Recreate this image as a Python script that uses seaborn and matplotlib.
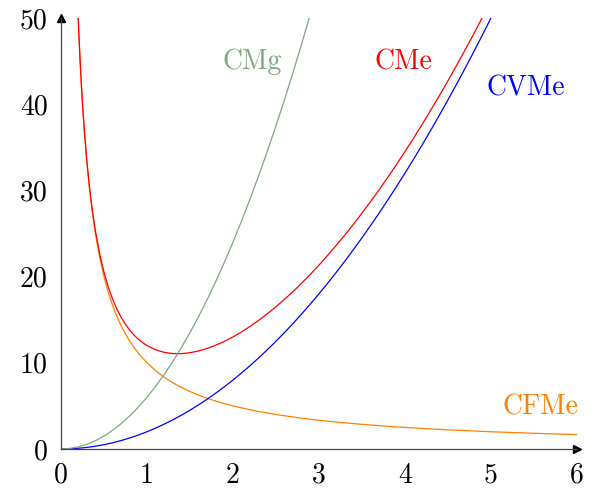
import matplotlib
matplotlib.use("Agg")
import matplotlib.pyplot as plt
import seaborn as sns
import pandas as pd

# ---- data ----
x_start = [0.2, 0.21, 0.22, 0.23, 0.24, 0.25, 0.27, 0.3, 0.33, 0.36, 0.4, 0.45, 0.5,
           0.55, 0.6, 0.65, 0.7, 0.75, 0.8, 0.85, 0.9, 0.95]

x_fixed = x_start + [1.0, 1.1, 1.2, 1.3, 1.4, 1.5, 1.6, 1.7, 1.8, 1.9, 2.0, 2.25, 2.5,
                     2.75, 3.0, 3.25, 3.5, 3.75, 4.0, 4.5, 5.0, 5.5, 6.0]
cfme = [50.0, 47.62, 45.45, 43.48, 41.67, 40.0, 37.04, 33.33, 30.30, 27.78, 25.0, 22.22,
        20.0, 18.18, 16.67, 15.38, 14.29, 13.33, 12.5, 11.76, 11.11, 10.53,
        10.0, 9.09, 8.33, 7.69, 7.14, 6.67, 6.25, 5.88, 5.56, 5.26, 5.0, 4.44, 4.0,
        3.64, 3.33, 3.08, 2.86, 2.67, 2.5, 2.22, 2.0, 1.82, 1.67]

x_cme = x_start + [1.0, 1.1, 1.2, 1.3, 1.4, 1.5, 1.6, 1.7, 1.8, 1.9, 2.0, 2.1, 2.2, 2.3,
                   2.4, 2.5, 2.6, 2.7, 2.8, 2.9, 3.0, 3.1, 3.2, 3.3, 3.4, 3.5, 3.6, 3.7,
                   3.8, 3.9, 4.0, 4.1, 4.2, 4.3, 4.4, 4.5, 4.6, 4.7, 4.8, 4.9, 5.0]
cme = [50.08, 47.71, 45.55, 43.59, 41.78, 40.13, 37.19, 33.51, 30.52, 28.04, 25.32,
       22.63, 20.5, 18.79, 17.39, 16.23, 15.27, 14.46, 13.78, 13.21, 12.73, 12.33,
       12.0, 11.51, 11.21, 11.07, 11.06, 11.17, 11.37, 11.66, 12.04, 12.48, 13.0, 13.58,
       14.23, 14.93, 15.69, 16.5, 17.37, 18.28, 19.25, 20.27, 21.33, 22.45, 23.61, 24.81,
       26.06, 27.36, 28.70, 30.08, 31.51, 32.98, 34.5, 36.06, 37.66, 39.31, 40.99, 42.72,
       44.49, 46.31, 48.16, 50.06, 52.0]

x_cvme = [0, 0.1, 0.2, 0.3, 0.4, 0.5, 0.6, 0.7, 0.8, 0.9, 1.0, 1.1, 1.2, 1.3, 1.4, 1.5,
          1.6, 1.7, 1.8, 1.9, 2.0, 2.1, 2.2, 2.3, 2.4, 2.5, 2.6, 2.7, 2.8, 2.9, 3.0, 3.1,
          3.2, 3.3, 3.4, 3.5, 3.6, 3.7, 3.8, 3.9, 4.0, 4.1, 4.2, 4.3, 4.4, 4.5, 4.6, 4.7,
          4.8, 4.9, 5.0, 5.1]
cvme = [0, 0.02, 0.08, 0.18, 0.32, 0.5, 0.72, 0.98, 1.28, 1.62, 2.0, 2.42, 2.88, 3.38,
        3.92, 4.5, 5.12, 5.78, 6.48, 7.22, 8.0, 8.82, 9.68, 10.58, 11.52, 12.5, 13.52,
        14.58, 15.68, 16.82, 18.0, 19.22, 20.48, 21.78, 23.12, 24.5, 25.92, 27.38, 28.88,
        30.42, 32.0, 33.62, 35.28, 36.98, 38.72, 40.5, 42.32, 44.18, 46.08, 48.02, 50.0,
        52.02]

x_cmg = [0, 0.1, 0.2, 0.3, 0.4, 0.5, 0.6, 0.7, 0.8, 0.9, 1.0, 1.1, 1.2, 1.3, 1.4, 1.5,
         1.6, 1.7, 1.8, 1.9, 2.0, 2.1, 2.2, 2.3, 2.4, 2.5, 2.6, 2.7, 2.8, 2.9, 3.0]
cmg = [0, 0.06, 0.24, 0.54, 0.96, 1.5, 2.16, 2.94, 3.84, 4.86, 6.0, 7.26, 8.64, 10.14,
       11.76, 13.5, 15.36, 17.34, 19.44, 21.66, 24.0, 26.46, 29.04, 31.74, 34.56, 37.5,
       40.56, 43.74, 47.04, 50.46, 54.0]

labels = ["CMg", "CMe", "CVMe", "CFMe"]
label_pos = [(2.22, 44.9), (3.98, 44.9), (5.41, 41.8), (5.58, 4.8)]
colors = {"CMg": "#7fa67f", "CMe": "#ff0000", "CVMe": "#0000ff", "CFMe": "#ff8000"}

xticks = [0, 1, 2, 3, 4, 5, 6]
yticks = [0, 10, 20, 30, 40, 50]

# ---- plotting ----
sns.set_style("white")
plt.rcParams["font.family"] = ["cmr10", "DejaVu Serif"]
plt.rcParams["axes.formatter.use_mathtext"] = True

fig = plt.figure(figsize=(5.95, 4.9), dpi=100)
ax = fig.add_axes([0.1025, 0.0837, 0.8672, 0.8796])

series = [("CFMe", x_fixed, cfme), ("CMe", x_cme, cme),
          ("CVMe", x_cvme, cvme), ("CMg", x_cmg, cmg)]
for name, xs, ys in series:
    df = pd.DataFrame({"x": xs, "y": ys})
    sns.lineplot(data=df, x="x", y="y", sort=False, estimator=None,
                 color=colors[name], lw=0.9, ax=ax)

ax.set_xlim(0, 6)
ax.set_ylim(0, 50)
ax.set_xlabel("")
ax.set_ylabel("")
for s in ["top", "right"]:
    ax.spines[s].set_visible(False)
axc = "#444444"
for s in ["left", "bottom"]:
    ax.spines[s].set_color(axc)
    ax.spines[s].set_linewidth(0.9)
ax.set_xticks(xticks)
ax.set_yticks(yticks)
ax.set_xticklabels([str(t) for t in xticks])
ax.set_yticklabels([str(t) for t in yticks])
ax.tick_params(direction="inout", length=7, width=0.6, color=axc,
               labelsize=20, labelcolor="black")
ax.tick_params(axis="x", pad=6)
ax.tick_params(axis="y", pad=6)

# arrow heads
ax.plot(1, 0, marker=">", color="black", ms=6, transform=ax.get_yaxis_transform(),
        clip_on=False)
ax.plot(0, 1, marker="^", color="black", ms=6, transform=ax.get_xaxis_transform(),
        clip_on=False)

for name, (lx, ly) in zip(labels, label_pos):
    ax.text(lx, ly, name, color=colors[name], fontsize=20, ha="center", va="center")

fig.savefig("out.png", dpi=100)
